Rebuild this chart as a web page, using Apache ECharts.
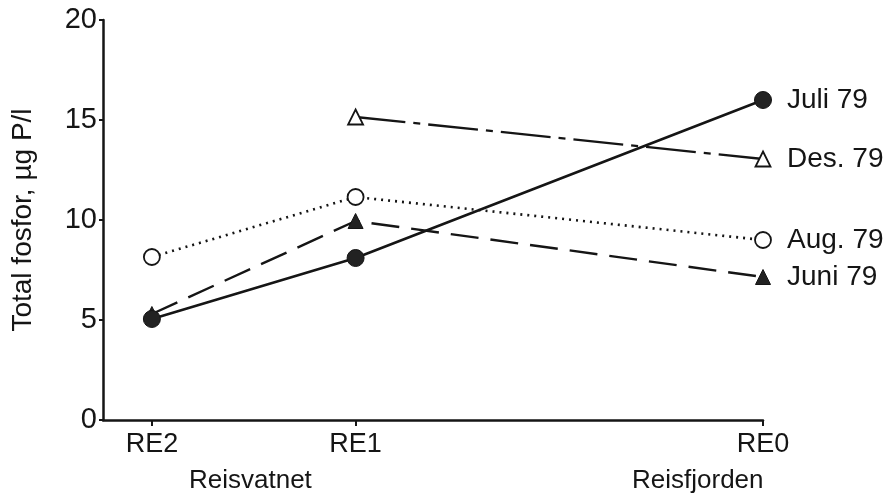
<!DOCTYPE html>
<html>
<head>
<meta charset="utf-8">
<script src="https://cdn.jsdelivr.net/npm/echarts@6/dist/echarts.min.js"></script>
<style>html,body{margin:0;padding:0;background:#fff;}#c{width:884px;height:502px;}</style>
</head>
<body>
<div id="c"></div>
<script>
// Station positions along the x axis (relative distance) and their labels
const stationPos = [0, 1, 3];
const stationLabels = ['RE2', 'RE1', 'RE0'];
const yTicks = [0, 5, 10, 15, 20];

// Total phosphorus (µg P/l) per station: RE2, RE1, RE0 (null = not measured)
const juli79 = [5.05, 8.1, 16.0];
const des79  = [null, 15.15, 13.05];
const aug79  = [8.15, 11.15, 9.0];
const juni79 = [5.3, 9.95, 7.15];

const ink = '#151515';
const font = 'Liberation Sans';

function pts(vals) {
  const out = [];
  vals.forEach((v, i) => { if (v !== null) out.push([stationPos[i], v]); });
  return out;
}
function endLab(name) {
  return { show: true, formatter: name, color: ink, fontSize: 28, fontFamily: font, distance: 24 };
}

const chart = echarts.init(document.getElementById('c'));
chart.setOption({
  backgroundColor: '#fff',
  animation: false,
  grid: { left: 103, right: 121, top: 20, bottom: 82, containLabel: false },
  xAxis: {
    type: 'value', min: -0.24, max: 3,
    splitLine: { show: false },
    axisLine: { show: true, onZero: false, lineStyle: { color: ink, width: 2.5 } },
    axisTick: { show: true, customValues: stationPos, length: 6, lineStyle: { color: ink, width: 2 } },
    axisLabel: {
      show: true, customValues: stationPos, margin: 11,
      formatter: v => stationLabels[stationPos.indexOf(v)] || '',
      color: ink, fontSize: 27, fontFamily: font
    }
  },
  yAxis: {
    type: 'value', min: 0, max: 20, interval: 5,
    splitLine: { show: false },
    axisLine: { show: true, onZero: false, lineStyle: { color: ink, width: 2.5 } },
    axisTick: { show: true, length: 4, lineStyle: { color: ink, width: 2 } },
    axisLabel: { color: ink, fontSize: 29, fontFamily: font, margin: 6,
      formatter: v => yTicks.includes(v) ? String(v) : '' },
    name: 'Total fosfor, µg P/l', nameLocation: 'middle', nameGap: 66,
    nameTextStyle: { color: ink, fontSize: 28, fontFamily: font }
  },
  graphic: [
    { type: 'text', left: 189, top: 468, style: { text: 'Reisvatnet', fill: ink, fontSize: 26, fontFamily: font } },
    { type: 'text', left: 632, top: 468, style: { text: 'Reisfjorden', fill: ink, fontSize: 26, fontFamily: font } }
  ],
  series: [
    { name: 'Juli 79', type: 'line', data: pts(juli79), symbol: 'circle', symbolSize: 17,
      itemStyle: { color: '#222', borderColor: ink, borderWidth: 1 },
      lineStyle: { color: ink, width: 2.6, type: 'solid' }, endLabel: endLab('Juli 79'), z: 5 },
    { name: 'Des. 79', type: 'line', data: pts(des79), symbol: 'triangle', symbolSize: 15,
      itemStyle: { color: '#fff', borderColor: ink, borderWidth: 1.8 },
      lineStyle: { color: ink, width: 2.3, type: [50, 8, 7, 8] }, endLabel: endLab('Des. 79') },
    { name: 'Aug. 79', type: 'line', data: pts(aug79), symbol: 'circle', symbolSize: 16,
      itemStyle: { color: '#fff', borderColor: ink, borderWidth: 1.8 },
      lineStyle: { color: ink, width: 2.6, type: [2, 5] }, endLabel: endLab('Aug. 79') },
    { name: 'Juni 79', type: 'line', data: pts(juni79), symbol: 'triangle', symbolSize: 15,
      itemStyle: { color: '#222', borderColor: ink, borderWidth: 1 },
      lineStyle: { color: ink, width: 2.4, type: [28, 12] }, endLabel: endLab('Juni 79') }
  ]
});
</script>
</body>
</html>
